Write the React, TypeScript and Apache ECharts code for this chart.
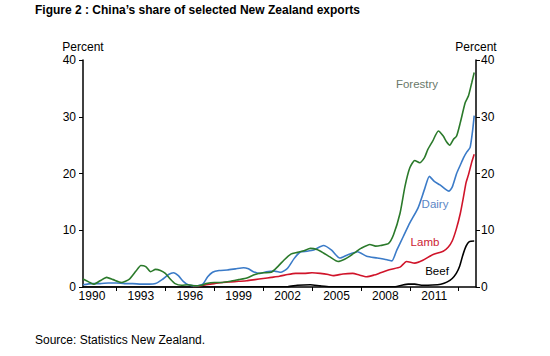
import React, { useEffect, useRef } from "react";
import * as echarts from "echarts";

const title = "Figure 2 : China\u2019s share of selected New Zealand exports";
const source = "Source: Statistics New Zealand.";
const yTicks = [0, 10, 20, 30, 40];
const xLabelYears = [1990, 1993, 1996, 1999, 2002, 2005, 2008, 2011];
const xTickYears = [1991.5, 1994.5, 1997.5, 2000.5, 2003.5, 2006.5, 2009.5, 2012.5];

const forestry: [number, number][] = [
  [1989.45, 1.4], [1989.8, 0.9], [1990.1, 0.5], [1990.5, 1.1], [1990.9, 1.7], [1991.3, 1.3], [1991.8, 0.8],
  [1992.3, 1.4], [1992.7, 2.8], [1993.0, 3.8], [1993.3, 3.6], [1993.6, 2.7], [1993.9, 3.1], [1994.2, 2.9],
  [1994.5, 2.4], [1994.8, 1.4], [1995.1, 0.6], [1995.5, 0.3], [1995.9, 0.4], [1996.3, 0.2], [1996.7, 0.3],
  [1997.0, 0.6], [1997.5, 0.8], [1998.0, 0.8], [1998.5, 1.0], [1999.0, 1.3], [1999.5, 1.6], [2000.0, 2.2],
  [2000.5, 2.5], [2001.0, 2.6], [2001.4, 3.6], [2001.8, 4.8], [2002.2, 5.8], [2002.6, 6.1], [2003.0, 6.4],
  [2003.4, 6.8], [2003.8, 6.6], [2004.2, 6.0], [2004.6, 5.3], [2005.1, 4.5], [2005.5, 4.9], [2005.8, 5.4],
  [2006.2, 6.2], [2006.5, 6.8], [2007.05, 7.5], [2007.4, 7.2], [2007.7, 7.3], [2008.2, 7.7], [2008.5, 9.2],
  [2008.9, 13.0], [2009.2, 17.7], [2009.5, 21.0], [2009.8, 22.3], [2010.1, 21.9], [2010.4, 22.8], [2010.6, 24.2],
  [2010.9, 25.7], [2011.25, 27.5], [2011.55, 26.6], [2011.75, 25.6], [2011.95, 25.0], [2012.17, 26.0],
  [2012.37, 26.6], [2012.6, 29.0], [2012.9, 32.5], [2013.1, 33.7], [2013.3, 36.0], [2013.45, 37.8],
];

const dairy: [number, number][] = [
  [1989.45, 0.4], [1990.0, 0.6], [1990.5, 0.6], [1991.0, 0.7], [1991.5, 0.7], [1992.0, 0.6], [1992.5, 0.6],
  [1993.0, 0.5], [1993.5, 0.5], [1993.9, 0.6], [1994.3, 1.3], [1994.7, 2.2], [1995.0, 2.5], [1995.3, 2.0],
  [1995.6, 1.0], [1995.9, 0.4], [1996.4, 0.2], [1996.8, 0.5], [1997.1, 1.8], [1997.4, 2.6], [1997.8, 2.9],
  [1998.3, 3.0], [1998.8, 3.2], [1999.3, 3.4], [1999.6, 3.2], [1999.9, 2.7], [2000.3, 2.4], [2000.7, 2.7],
  [2001.2, 2.8], [2001.6, 2.6], [2002.0, 3.3], [2002.4, 5.0], [2002.8, 6.2], [2003.2, 6.3], [2003.6, 6.5],
  [2004.2, 7.3], [2004.7, 6.5], [2005.2, 5.1], [2005.7, 5.7], [2006.3, 6.2], [2006.85, 5.4], [2007.5, 5.1],
  [2008.1, 4.8], [2008.4, 4.6], [2008.7, 6.5], [2009.1, 8.9], [2009.5, 11.3], [2010.0, 13.9], [2010.4, 17.2],
  [2010.7, 19.5], [2011.0, 18.6], [2011.35, 18.0], [2011.7, 17.2], [2011.9, 16.9], [2012.1, 17.6],
  [2012.37, 20.0], [2012.6, 21.5], [2012.8, 22.8], [2013.0, 23.8], [2013.2, 24.6], [2013.35, 27.5], [2013.45, 30.2],
];

const lamb: [number, number][] = [
  [1996.2, 0.1], [1996.6, 0.2], [1997.0, 0.4], [1997.5, 0.6], [1998.0, 0.8], [1998.5, 0.9], [1999.0, 1.0],
  [1999.5, 1.1], [2000.0, 1.3], [2000.5, 1.5], [2001.0, 1.7], [2001.5, 1.9], [2002.0, 2.2], [2002.5, 2.4],
  [2003.0, 2.4], [2003.5, 2.5], [2004.0, 2.4], [2004.5, 2.2], [2004.8, 2.0], [2005.4, 2.3], [2006.0, 2.4],
  [2006.4, 2.1], [2006.85, 1.8], [2007.3, 2.1], [2007.7, 2.5], [2008.3, 3.1], [2008.9, 3.5], [2009.3, 4.5],
  [2009.8, 4.2], [2010.3, 4.7], [2010.9, 5.7], [2011.55, 6.3], [2011.85, 7.0], [2012.1, 8.1], [2012.35, 10.2],
  [2012.6, 13.0], [2012.8, 16.0], [2012.95, 18.4], [2013.1, 19.8], [2013.3, 22.0], [2013.45, 23.4],
];

const beef: [number, number][] = [
  [1989.45, 0.0], [2002.0, 0.05], [2002.6, 0.3], [2003.4, 0.4], [2004.0, 0.2], [2004.6, 0.05], [2008.6, 0.05],
  [2009.0, 0.3], [2009.4, 0.5], [2009.8, 0.5], [2010.3, 0.3], [2010.9, 0.35], [2011.4, 0.5], [2011.8, 0.9],
  [2012.1, 1.5], [2012.35, 2.4], [2012.55, 3.6], [2012.75, 5.6], [2012.95, 7.2], [2013.15, 8.0], [2013.45, 8.1],
];

const seriesNames = ["Forestry", "Dairy", "Lamb", "Beef"];
const lineColors = ["#2b7a2b", "#3b7bc8", "#d0142a", "#000000"];
const labelColors = ["#6a786a", "#5b86c5", "#cc2233", "#000000"];

const FONT = "'Liberation Sans', Arial, sans-serif";

export default function App() {
  const ref = useRef<HTMLDivElement>(null);
  useEffect(() => {
    if (!ref.current) return;
    const chart = echarts.init(ref.current, undefined, { renderer: "svg" });
    const datas = [forestry, dairy, lamb, beef];
    const labelPos = [
      { x: 417, y: 84 },
      { x: 435, y: 204 },
      { x: 425, y: 242 },
      { x: 437, y: 271 },
    ];
    const yAxisBase = (pos: "left" | "right") => ({
      type: "value" as const,
      position: pos,
      min: 0,
      max: 40,
      interval: 10,
      name: "Percent",
      nameLocation: "end" as const,
      nameGap: 7,
      nameTextStyle: { color: "#000", fontSize: 12, fontFamily: FONT, align: "center" as const },
      axisLine: { show: true, lineStyle: { color: "#000", width: 1.5 } },
      axisTick: { show: true, length: 4, lineStyle: { color: "#000", width: 1 } },
      axisLabel: { color: "#000", fontSize: 12, fontFamily: FONT, margin: pos === "left" ? 7 : 5 },
      splitLine: { show: false },
    });
    chart.setOption({
      animation: false,
      backgroundColor: "#fff",
      textStyle: { fontFamily: FONT },
      grid: { left: 83, right: 74, top: 60, bottom: 69 },
      xAxis: {
        type: "value",
        min: 1989.45,
        max: 2013.56,
        axisLine: { show: true, onZero: false, lineStyle: { color: "#000", width: 1.5 } },
        axisTick: { show: true, length: 4, customValues: xTickYears, lineStyle: { color: "#000" } },
        axisLabel: {
          color: "#000",
          fontSize: 12,
          fontFamily: FONT,
          margin: 3,
          customValues: xLabelYears,
          formatter: (v: number) => String(Math.round(v)),
        },
        splitLine: { show: false },
      },
      yAxis: [yAxisBase("left"), yAxisBase("right")],
      series: datas.map((d, i) => ({
        name: seriesNames[i],
        type: "line",
        data: d,
        showSymbol: false,
        smooth: 0.2,
        lineStyle: { color: lineColors[i], width: 1.6 },
        z: 10 - i,
      })),
      graphic: [
        {
          type: "text",
          left: 35,
          top: 4,
          style: { text: title, fill: "#000", font: `bold 12px ${FONT}` },
        },
        {
          type: "text",
          left: 35,
          top: 334,
          style: { text: source, fill: "#000", font: `12px ${FONT}` },
        },
        ...seriesNames.map((n, i) => ({
          type: "text",
          x: labelPos[i].x,
          y: labelPos[i].y,
          style: {
            text: n,
            fill: labelColors[i],
            font: `11.5px ${FONT}`,
            align: "center",
            verticalAlign: "middle",
          },
        })),
      ],
    });
    return () => chart.dispose();
  }, []);
  return (
    <div
      ref={ref}
      style={{ position: "absolute", left: 0, top: 0, width: 550, height: 356, background: "#fff" }}
    />
  );
}
